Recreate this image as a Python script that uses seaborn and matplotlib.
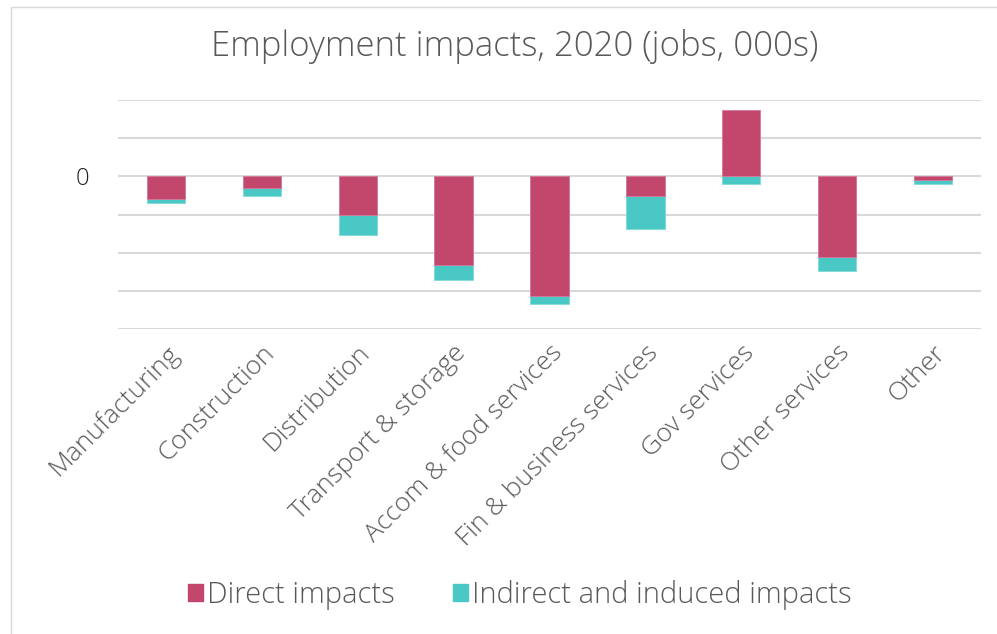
import numpy as np
import pandas as pd
import matplotlib
matplotlib.use("Agg")
import matplotlib.pyplot as plt
from matplotlib.patches import Rectangle, Patch
import seaborn as sns

categories = ["Manufacturing", "Construction", "Distribution", "Transport & storage",
              "Accom & food services", "Fin & business services", "Gov services",
              "Other services", "Other"]
direct = [-12.0, -5.9, -20.2, -46.3, -62.7, -10.1, 34.5, -42.5, -2.1]
indirect = [-1.9, -4.4, -10.3, -8.2, -4.2, -17.4, -4.2, -7.3, -2.1]
series_names = ["Direct impacts", "Indirect and induced impacts"]
colors = ["#C3466D", "#4AC8C5"]

sns.set_theme(style="white")
plt.rcParams['font.family'] = ['Open Sans', 'DejaVu Sans']

d = np.array(direct)
ind = np.array(indirect)
stack_end = np.where(d < 0, d + ind, ind)
df = pd.DataFrame({"cat": categories, "direct": d, "stack_end": stack_end})

fig = plt.figure(figsize=(9.97, 6.34), dpi=100)
ax = fig.add_axes([118/997, 1-329/634, (981-118)/997, (329-100)/634])

sns.barplot(data=df, x="cat", y="stack_end", color=colors[1], saturation=1,
            width=0.4, ax=ax, edgecolor="#7FDAD6", linewidth=0.6, zorder=3)
sns.barplot(data=df, x="cat", y="direct", color=colors[0], saturation=1,
            width=0.4, ax=ax, edgecolor="#D9789A", linewidth=0.6, zorder=4)

ax.set_ylim(-80, 40)
ax.set_yticks(np.arange(-80, 41, 20))
ax.yaxis.grid(True, color="#D9D9D9", linewidth=1.5, zorder=0)
ax.set_axisbelow(True)
ax.set_yticklabels(["" if v != 0 else "0" for v in np.arange(-80, 41, 20)],
                   fontsize=17, color="#222222", fontweight="light")
ax.tick_params(axis="y", length=0, pad=21)
ax.tick_params(axis="x", length=0, pad=8)
ax.set_xticks(range(len(categories)))
ax.set_xticklabels(categories, rotation=45, ha="right", rotation_mode="anchor",
                   fontsize=19, color="#595959", fontweight="light")
ax.set_xlabel("")
ax.set_ylabel("")
for s in ax.spines.values():
    s.set_visible(False)
ax.set_xlim(-0.5, len(categories) - 0.5)

fig.text(515/997, 1-47/634, "Employment impacts, 2020 (jobs, 000s)", ha="center",
         va="center", fontsize=25, color="#595959", fontweight="light")

handles = [Patch(facecolor=c, edgecolor=c) for c in colors]
fig.legend(handles, series_names, loc="center", bbox_to_anchor=(520/997, 1-595/634),
           ncol=2, frameon=False, prop={"size": 21, "weight": "light"},
           labelcolor="#595959",
           handlelength=0.5, handleheight=0.5, handletextpad=0.15, columnspacing=2.0)

fig.patches.append(Rectangle((11/997, -0.1), 1.2, 1-7/634+0.1, transform=fig.transFigure,
                             fill=False, edgecolor="#D9D9D9", linewidth=1, zorder=0))

fig.savefig("out.png", dpi=100)
